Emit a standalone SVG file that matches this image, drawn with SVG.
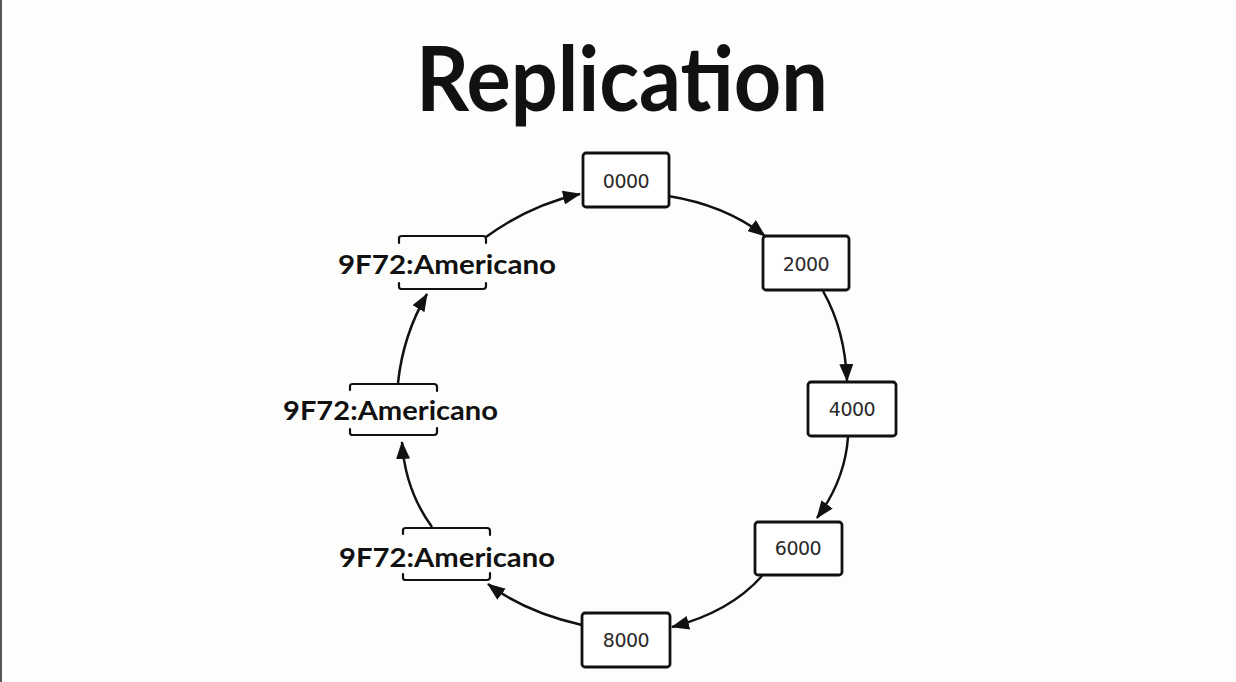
<svg xmlns="http://www.w3.org/2000/svg" width="1236" height="682" viewBox="0 0 1236 682">
<style>
.box{fill:#fff;stroke:#111;stroke-width:2.8;stroke-linejoin:round}
.num{font-family:"DejaVu Sans",sans-serif;font-size:19px;font-weight:normal;fill:#2a2a2a;text-anchor:middle;letter-spacing:-0.5px}
.lbl{font-family:Lato,"Open Sans",sans-serif;font-weight:bold;font-size:27px;fill:#111}
.br{fill:none;stroke:#111;stroke-width:2.2;stroke-linecap:round;stroke-linejoin:round}
.con{fill:none;stroke:#111;stroke-width:2.5}
</style>
<defs>
<marker id="ah" markerWidth="18" markerHeight="14" refX="17" refY="7" orient="auto" markerUnits="userSpaceOnUse">
<path d="M0,0 L18,7 L0,14 Z" fill="#111"/>
</marker>
</defs>
<rect width="1236" height="682" fill="#fdfefc"/>
<rect x="0" y="0" width="2" height="682" fill="#555"/>
<text x="622" y="111" font-family="Lato, Open Sans, sans-serif" font-weight="bold" font-size="90" fill="#111" text-anchor="middle" textLength="412" lengthAdjust="spacingAndGlyphs">Replication</text>
<g id="connectors">
<path class="con" marker-end="url(#ah)" d="M668,196 Q725,205 765,236"/>
<path class="con" marker-end="url(#ah)" d="M823,291 Q845,330 847,381"/>
<path class="con" marker-end="url(#ah)" d="M848,437 Q845,480 817,518"/>
<path class="con" marker-end="url(#ah)" d="M762,576 Q730,612 672,627"/>
<path class="con" marker-end="url(#ah)" d="M582,625 Q525,612 488,584"/>
<path class="con" marker-end="url(#ah)" d="M432,527 Q405,490 402,442"/>
<path class="con" marker-end="url(#ah)" d="M398,383 Q403,335 427,294"/>
<path class="con" marker-end="url(#ah)" d="M486,237 Q530,205 580,194"/>
</g>
<g id="n0000"><rect class="box" x="583" y="153" width="86" height="54" rx="3"/><text class="num" x="626" y="188">0000</text></g>
<g id="n2000"><rect class="box" x="763" y="236" width="86" height="54" rx="3"/><text class="num" x="806" y="271">2000</text></g>
<g id="n4000"><rect class="box" x="808" y="382" width="88" height="54" rx="3"/><text class="num" x="852" y="416">4000</text></g>
<g id="n6000"><rect class="box" x="755" y="522" width="87" height="53" rx="3"/><text class="num" x="798" y="555">6000</text></g>
<g id="n8000"><rect class="box" x="582" y="613" width="88" height="54" rx="3"/><text class="num" x="626" y="647">8000</text></g>
<g id="r1">
<path class="br" d="M399,243 V238 Q399,236 402,236 H483 Q486,236 486,239 V243"/>
<path class="br" d="M399,283 V287 Q399,289 402,289 H483 Q486,289 486,286 V283"/>
<text class="lbl" x="338" y="274" textLength="218" lengthAdjust="spacingAndGlyphs">9F72:Americano</text>
</g>
<g id="r2">
<path class="br" d="M350,390 V386 Q350,384 353,384 H434 Q437,384 437,387 V391"/>
<path class="br" d="M350,429 V433 Q350,435 353,435 H434 Q437,435 437,432 V428"/>
<text class="lbl" x="283" y="420" textLength="215" lengthAdjust="spacingAndGlyphs">9F72:Americano</text>
</g>
<g id="r3">
<path class="br" d="M403,534 V530 Q403,528 406,528 H487 Q490,528 490,531 V535"/>
<path class="br" d="M403,574 V578 Q403,580 406,580 H487 Q490,580 490,577 V573"/>
<text class="lbl" x="339" y="567" textLength="216" lengthAdjust="spacingAndGlyphs">9F72:Americano</text>
</g>
</svg>
